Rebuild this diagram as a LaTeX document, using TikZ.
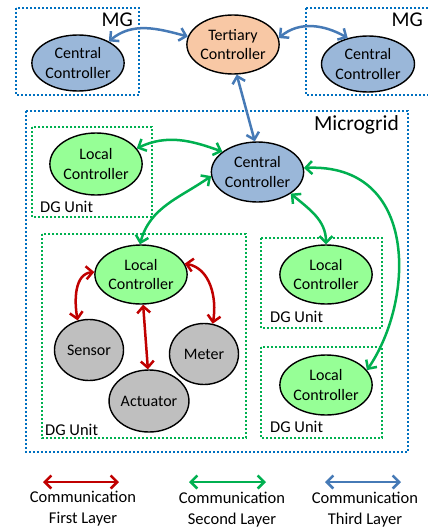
\documentclass[tikz,border=0pt]{standalone}
\usepackage{fontspec}
\setmainfont{Carlito}
\usetikzlibrary{arrows.meta,shapes.geometric}
\definecolor{boxblue}{RGB}{0,112,192}
\definecolor{arrblue}{RGB}{70,122,182}
\definecolor{grn}{RGB}{0,176,80}
\definecolor{redd}{RGB}{192,0,0}
\definecolor{fillblue}{RGB}{154,183,217}
\definecolor{fillgreen}{RGB}{150,255,150}
\definecolor{fillgray}{RGB}{191,191,191}
\definecolor{fillpeach}{RGB}{248,200,165}
\tikzset{
  ctrl/.style={ellipse, draw=black, line width=1.4pt, inner sep=0pt, align=center,
     font=\fontsize{16}{19.5}\selectfont},
  mgbox/.style={draw=boxblue, line width=1.6pt, dash pattern=on 2pt off 2pt},
  dgbox/.style={draw=grn, line width=1.2pt, dash pattern=on 2pt off 2pt},
  lbl/.style={font=\fontsize{16.5}{20}\selectfont, inner sep=0pt},
  con/.style={line width=2.5pt, {Straight Barb[length=6.5pt,width=13pt]}-{Straight Barb[length=6.5pt,width=13pt]}},
  l1/.style={con, draw=redd},
  l2/.style={con, draw=grn},
  l3/.style={con, draw=arrblue},
}
\begin{document}
\begin{tikzpicture}[x=1pt,y=-1pt]
\useasboundingbox (0,0) rectangle (428,527);
% boxes
\draw[mgbox] (16,8) rectangle (139,95);
\draw[mgbox] (306,8) rectangle (440,95);
\draw[mgbox] (26,111) rectangle (408,452);
\draw[dgbox] (32,127) rectangle (152,217);
\draw[dgbox] (42,234) rectangle (246,438);
\draw[dgbox] (261,238) rectangle (382,328);
\draw[dgbox] (261,347) rectangle (382,438);
% labels
\node[lbl, anchor=east, font=\fontsize{21}{24}\selectfont] (mg1) at (133,20) {MG};
\node[lbl, anchor=east, font=\fontsize{21}{24}\selectfont] (mg2) at (423,20) {MG};
\node[lbl, anchor=east, font=\fontsize{21.5}{24}\selectfont] (mgr) at (399,125) {Microgrid};
\node[lbl, anchor=west] (dg1) at (40,207) {DG Unit};
\node[lbl, anchor=west] (dg2) at (45,430) {DG Unit};
\node[lbl, anchor=west] (dg3) at (270,317) {DG Unit};
\node[lbl, anchor=west] (dg4) at (270,427) {DG Unit};
% controllers
\node[ctrl, fill=fillblue, minimum width=92pt, minimum height=56pt] (cL) at (78,63) {Central\\Controller};
\node[ctrl, fill=fillpeach, minimum width=90pt, minimum height=59pt] (T) at (233,44.5) {Tertiary\\Controller};
\node[ctrl, fill=fillblue, minimum width=93pt, minimum height=56pt] (cR) at (368,64) {Central\\Controller};
\node[ctrl, fill=fillblue, minimum width=92pt, minimum height=60pt] (C) at (257.5,172) {Central\\Controller};
\node[ctrl, fill=fillgreen, minimum width=92pt, minimum height=62pt] (LT) at (96,164) {Local\\Controller};
\node[ctrl, fill=fillgreen, minimum width=92pt, minimum height=59pt] (LB) at (141,274.5) {Local\\Controller};
\node[ctrl, fill=fillgreen, minimum width=92pt, minimum height=59pt] (R1) at (326,274.5) {Local\\Controller};
\node[ctrl, fill=fillgreen, minimum width=92pt, minimum height=60pt] (R2) at (326,385) {Local\\Controller};
\node[ctrl, fill=fillgray, minimum width=69pt, minimum height=61pt] (S) at (89,350) {Sensor};
\node[ctrl, fill=fillgray, minimum width=69pt, minimum height=61pt] (M) at (204,354) {Meter};
\node[ctrl, fill=fillgray, minimum width=68pt, minimum height=62pt] (A) at (149,401) {Actuator};
% third layer
\draw[l3] (cL.35) to[out=40,in=165] (T.170);
\draw[l3] (T.8) to[out=40,in=150] (cR.128);
\draw[l3] (T.-83) -- (C.95);
% second layer
\draw[l2] (LT.21) to[out=25,in=160] (C.150);
\draw[l2] (C.185) to[out=215,in=75] (LB.92);
\draw[l2] (C.-33) to[out=-40,in=90] (R1.90);
\draw[l2] (C.5) .. controls +(115,-5) and +(48,-70) .. (R2.20);
% first layer
\draw[l1] (LB.177) to[out=185,in=100] (S.111);
\draw[l1] (LB.14) to[out=-10,in=80] (M.74);
\draw[l1] (LB.-86) -- (A.92);
% legend
\coordinate (a1) at (43,482); \coordinate (b1) at (119,482);
\coordinate (a2) at (189,482); \coordinate (b2) at (266,482);
\coordinate (a3) at (325,482); \coordinate (b3) at (401,482);
\draw[l1] (a1) -- (b1);
\draw[l2] (a2) -- (b2);
\draw[l3] (a3) -- (b3);
\node[lbl, align=center, font=\fontsize{16.5}{20.5}\selectfont, anchor=north] (t1) at (83,491) {Communication\\First Layer};
\node[lbl, align=center, font=\fontsize{16.5}{20.5}\selectfont, anchor=north] (t2) at (232,492) {Communication\\Second Layer};
\node[lbl, align=center, font=\fontsize{16.5}{20.5}\selectfont, anchor=north] (t3) at (365,492) {Communication\\Third Layer};
\end{tikzpicture}
\end{document}
